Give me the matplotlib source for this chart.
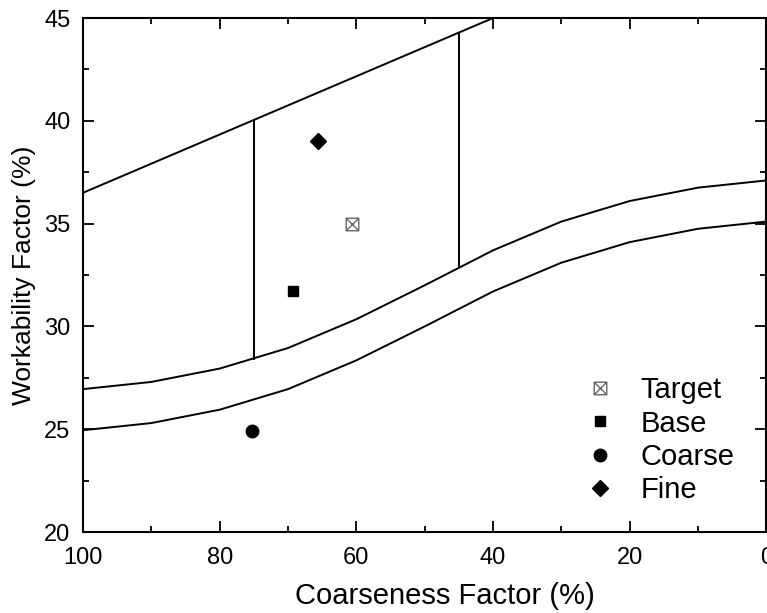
import matplotlib
matplotlib.use("Agg")
import matplotlib.pyplot as plt
from matplotlib.path import Path

# ── data ──────────────────────────────────────────────────────────────────────
# upper limit line (coarseness vs workability)
upper_x = [100, 40]
upper_y = [36.5, 45.0]

# vertical zone boundaries
vert_x = [75, 45]
vert_lo = [28.4, 32.9]
vert_hi = [40.0, 44.2]

# trend band
band_x = [100, 90, 80, 70, 60, 50, 40, 30, 20, 10, 0]
band_top = [26.95, 27.3, 27.95, 28.95, 30.35, 32.0, 33.7, 35.1, 36.1, 36.75, 37.1]
band_bot = [24.95, 25.3, 25.95, 26.95, 28.35, 30.0, 31.7, 33.1, 34.1, 34.75, 35.1]

# mixes
mix_names = ["Target", "Base", "Coarse", "Fine"]
mix_x = [60.6, 69.3, 75.3, 65.6]
mix_y = [35.0, 31.7, 24.9, 39.0]

# ── plot ──────────────────────────────────────────────────────────────────────
plt.rcParams["font.family"] = ["Liberation Sans", "DejaVu Sans"]

# boxed-x marker for the target mix
boxx = Path(
    [(-1, -1), (1, -1), (1, 1), (-1, 1), (-1, -1), (-1, -1), (1, 1), (-1, 1), (1, -1)],
    [Path.MOVETO, Path.LINETO, Path.LINETO, Path.LINETO, Path.CLOSEPOLY,
     Path.MOVETO, Path.LINETO, Path.MOVETO, Path.LINETO],
)

fig = plt.figure(figsize=(7.67, 6.13), dpi=100)
ax = fig.add_axes([0.1082, 0.1321, 0.8910, 0.8385])

lw = 1.4
ax.plot(upper_x, upper_y, color="black", lw=lw)
for x, lo, hi in zip(vert_x, vert_lo, vert_hi):
    ax.plot([x, x], [lo, hi], color="black", lw=lw)
ax.plot(band_x, band_top, color="black", lw=lw)
ax.plot(band_x, band_bot, color="black", lw=lw)

styles = {
    "Target": dict(marker=boxx, markersize=9, markerfacecolor="none",
                   markeredgecolor="#666666", markeredgewidth=1.0),
    "Base": dict(marker="s", markersize=7.5, color="black"),
    "Coarse": dict(marker="o", markersize=9, color="black"),
    "Fine": dict(marker="D", markersize=8, color="black"),
}
for name, x, y in zip(mix_names, mix_x, mix_y):
    ax.plot([x], [y], linestyle="none", label=name, **styles[name])

ax.set_xlim(100, 0)
ax.set_ylim(20, 45)
ax.set_xticks(range(100, -1, -20))
ax.set_xticks(range(90, 0, -20), minor=True)
ax.set_yticks(range(20, 46, 5))
ax.set_yticks([22.5, 27.5, 32.5, 37.5, 42.5], minor=True)
ax.tick_params(which="both", direction="in", top=True, right=True,
               width=1.3, labelsize=17)
ax.tick_params(which="major", length=8)
ax.tick_params(which="minor", length=4)
ax.tick_params(axis="x", which="major", pad=11)
ax.tick_params(axis="y", which="major", pad=9)
for s in ax.spines.values():
    s.set_linewidth(1.5)

ax.set_xlabel("Coarseness Factor (%)", fontsize=21)
ax.xaxis.set_label_coords(0.53, -0.098)
ax.set_ylabel("Workability Factor (%)", fontsize=19, labelpad=6)

ax.legend(loc="upper left", bbox_to_anchor=(0.740, 0.303), frameon=False,
          fontsize=21, handlelength=0.8, handletextpad=0.97,
          labelspacing=0.18, borderaxespad=0, borderpad=0)

fig.savefig("out.png", dpi=100)
